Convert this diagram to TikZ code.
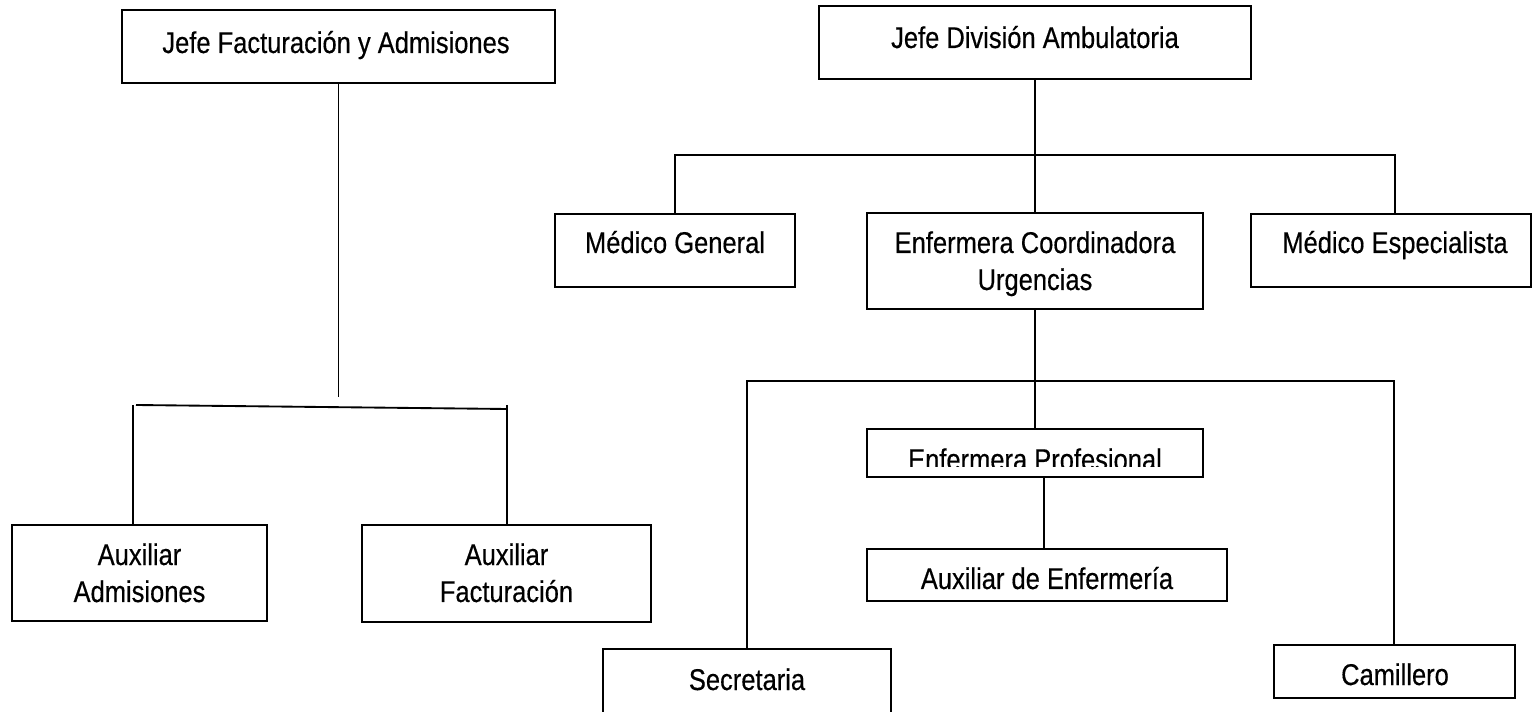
\documentclass[tikz,border=0pt]{standalone}
\usepackage{fontspec}
\setmainfont{Liberation Sans}[FakeStretch=0.85,FakeBold=0.4]
\usetikzlibrary{calc}
\begin{document}
\begin{tikzpicture}[x=0.75pt,y=-0.75pt,
  bx/.style 2 args={draw=black, line width=1.4pt, rectangle, inner sep=0pt,
     minimum width=#1*0.75pt, minimum height=#2*0.75pt},
  lbl/.style={font=\fontsize{22.5pt}{27.75pt}\selectfont, inner sep=0pt, anchor=base, align=center},
  conn/.style={draw=black, line width=1.4pt}]
\useasboundingbox (0,0) rectangle (1532,712);

% ---------- boxes ----------
\node[bx={433}{73}] (jf)  at (338.5,46.5) {};
\node[bx={255}{96}] (aa)  at (139.5,573)  {};
\node[bx={289}{97}] (af)  at (506.5,573.5) {};
\node[bx={432}{73}] (jd)  at (1035,42.5)  {};
\node[bx={240}{73}] (mg)  at (675,250.5)  {};
\node[bx={336}{96}] (ec)  at (1035,261)   {};
\node[bx={280}{73}] (me)  at (1391,250.5) {};
\node[bx={336}{48}] (ep)  at (1035,453)   {};
\node[bx={360}{52}] (ae)  at (1047,575)   {};
\node[bx={288}{67}] (sec) at (747,682.5)  {};
\node[bx={241}{53}] (cam) at (1394.5,671.5) {};

% ---------- labels (anchor = baseline of last line) ----------
\node[lbl] (tjf) at (336,53) {Jefe Facturación y Admisiones};
\node[lbl] (taa) at (139.5,602) {Auxiliar\\Admisiones};
\node[lbl] (taf) at (506.5,602) {Auxiliar\\Facturación};
\node[lbl] (tjd) at (1035,48) {Jefe División Ambulatoria};
\node[lbl] (tmg) at (675,253) {Médico General};
\node[lbl] (tec) at (1035,290) {Enfermera Coordinadora\\Urgencias};
\node[lbl] (tme) at (1395,253) {Médico Especialista};
\begin{scope}
  \clip (867,429) rectangle (1203,467);
  \node[lbl] (tep) at (1035,470) {Enfermera Profesional};
\end{scope}
\node[lbl] (tae) at (1047,589) {Auxiliar de Enfermería};
\node[lbl] (tsec) at (747,690) {Secretaria};
\node[lbl] (tcam) at (1395,685) {Camillero};

% ---------- left tree connectors ----------
\coordinate (jfEnd) at (338.5,397);
\coordinate (lbL) at (136,405);
\coordinate (lbR) at (507,409);
\coordinate (lvL) at (133,405);
\coordinate (lvR) at (507,405);
\draw[conn] (jf.south) -- (jfEnd);
\draw[conn] (lbL) -- (lbR);
\draw[conn] (lvL) -- (lvL |- aa.north);
\draw[conn] (lvR) -- (lvR |- af.north);

% ---------- right tree connectors ----------
\coordinate (rb1)  at (1035,155);
\coordinate (rb1R) at (1395,155);
\draw[conn] (jd.south) -- (rb1);
\draw[conn] (mg.north) |- (rb1R) -- (rb1R |- me.north);
\draw[conn] (rb1) -- (ec.north);

\coordinate (rb2)  at (1035,381);
\coordinate (rb2R) at (1394,381);
\draw[conn] (ec.south) -- (rb2) -- (ep.north);
\draw[conn] (sec.north) |- (rb2R) -- (rb2R |- cam.north);

\coordinate (epOut) at (1044,453);
\draw[conn] (epOut |- ep.south) -- (epOut |- ae.north);
\end{tikzpicture}
\end{document}
